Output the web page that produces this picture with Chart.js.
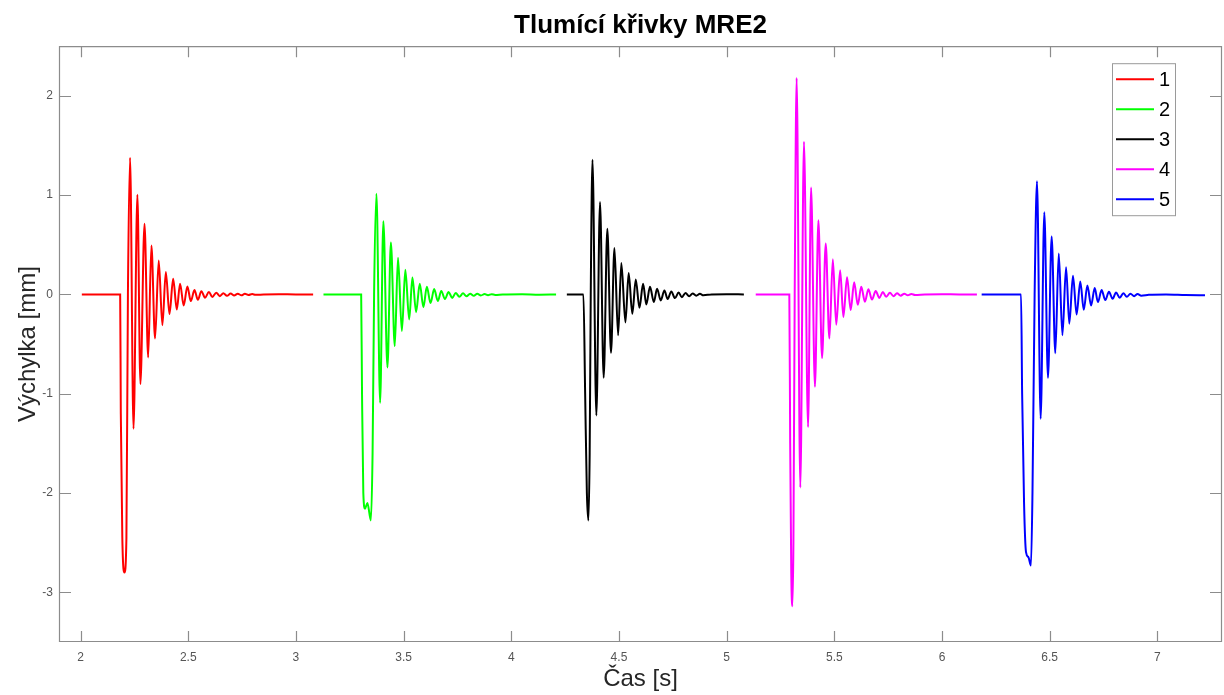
<!DOCTYPE html>
<html lang="cs">
<head>
<meta charset="utf-8">
<title>Tlumící křivky MRE2</title>
<script src="https://cdn.jsdelivr.net/npm/chart.js@4.4.0/dist/chart.umd.min.js"></script>
<style>
  html, body { margin: 0; padding: 0; background: #fff; }
</style>
</head>
<body>
<canvas id="graf" width="1224" height="695"></canvas>
<script>
// Data: čas [s] a výchylka [mm] pro každé měření
const cas1 = [2.006, 2.184, 2.187, 2.194, 2.204, 2.213, 2.220, 2.230, 2.246, 2.264, 2.278, 2.297, 2.314, 2.329, 2.346, 2.363, 2.380, 2.396, 2.413, 2.430, 2.447, 2.462, 2.479, 2.496, 2.512, 2.529, 2.545, 2.561, 2.578, 2.596, 2.612, 2.630, 2.647, 2.663, 2.680, 2.697, 2.713, 2.730, 2.747, 2.763, 2.780, 2.797, 2.813, 2.85, 2.92, 3.00, 3.08];
const vychylka1 = [0, 0, -1.2, -2.45, -2.80, -2.45, 0, 1.377, -1.353, 1.004, -0.903, 0.712, -0.634, 0.493, -0.443, 0.342, -0.309, 0.225, -0.198, 0.158, -0.151, 0.108, -0.111, 0.081, -0.067, 0.044, -0.054, 0.033, -0.033, 0.024, -0.025, 0.017, -0.017, 0.012, -0.013, 0.009, -0.010, 0.007, -0.008, 0.006, -0.006, 0.004, -0.004, 0, 0.003, 0, 0];

const cas2 = [3.128, 3.303, 3.307, 3.313, 3.321, 3.332, 3.348, 3.356, 3.363, 3.374, 3.391, 3.406, 3.425, 3.441, 3.459, 3.474, 3.492, 3.508, 3.526, 3.541, 3.558, 3.575, 3.592, 3.608, 3.625, 3.642, 3.659, 3.675, 3.692, 3.709, 3.726, 3.742, 3.759, 3.776, 3.792, 3.809, 3.826, 3.842, 3.859, 3.876, 3.892, 3.909, 3.925, 3.96, 4.05, 4.13, 4.208];
const vychylka2 = [0, 0, -1.0, -2.0, -2.158, -2.10, -2.276, -1.6, 0, 1.014, -1.091, 0.738, -0.735, 0.524, -0.520, 0.369, -0.369, 0.248, -0.252, 0.171, -0.178, 0.108, -0.128, 0.078, -0.087, 0.054, -0.066, 0.035, -0.046, 0.024, -0.035, 0.015, -0.024, 0.011, -0.018, 0.008, -0.014, 0.006, -0.010, 0.004, -0.008, 0.003, -0.005, 0, 0.003, -0.002, 0];

const cas3 = [4.258, 4.335, 4.343, 4.351, 4.358, 4.364, 4.369, 4.377, 4.395, 4.412, 4.429, 4.446, 4.463, 4.479, 4.496, 4.511, 4.530, 4.545, 4.562, 4.578, 4.595, 4.612, 4.627, 4.644, 4.662, 4.677, 4.694, 4.711, 4.726, 4.743, 4.760, 4.777, 4.792, 4.809, 4.826, 4.842, 4.859, 4.876, 4.892, 4.93, 5.00, 5.08];
const vychylka3 = [0, 0, -1.0, -2.0, -2.276, -1.6, 0, 1.356, -1.219, 0.930, -0.839, 0.661, -0.587, 0.467, -0.410, 0.316, -0.282, 0.215, -0.195, 0.151, -0.134, 0.107, -0.101, 0.077, -0.077, 0.057, -0.060, 0.040, -0.047, 0.030, -0.037, 0.020, -0.027, 0.014, -0.019, 0.010, -0.013, 0.006, -0.008, 0, 0.002, 0];

const cas4 = [5.135, 5.291, 5.295, 5.300, 5.305, 5.310, 5.316, 5.325, 5.342, 5.359, 5.378, 5.392, 5.410, 5.426, 5.443, 5.460, 5.477, 5.493, 5.509, 5.527, 5.542, 5.559, 5.576, 5.592, 5.609, 5.625, 5.642, 5.658, 5.675, 5.692, 5.709, 5.725, 5.741, 5.758, 5.775, 5.791, 5.808, 5.825, 5.841, 5.858, 5.875, 5.92, 6.00, 6.08, 6.162];
const vychylka4 = [0, 0, -1.5, -2.8, -3.14, -2.5, 0, 2.179, -1.944, 1.538, -1.336, 1.076, -0.930, 0.746, -0.641, 0.514, -0.444, 0.355, -0.305, 0.243, -0.226, 0.173, -0.156, 0.122, -0.104, 0.077, -0.073, 0.052, -0.052, 0.035, -0.035, 0.024, -0.024, 0.016, -0.017, 0.011, -0.012, 0.008, -0.009, 0.005, -0.006, 0, 0.003, 0, 0];

const cas5 = [6.184, 6.367, 6.372, 6.381, 6.390, 6.401, 6.413, 6.420, 6.430, 6.441, 6.458, 6.475, 6.492, 6.509, 6.526, 6.542, 6.559, 6.576, 6.591, 6.608, 6.625, 6.642, 6.658, 6.675, 6.692, 6.709, 6.724, 6.741, 6.758, 6.775, 6.792, 6.808, 6.825, 6.842, 6.858, 6.875, 6.892, 6.908, 6.925, 6.96, 7.04, 7.13, 7.221];
const vychylka5 = [0, 0, -1.0, -2.11, -2.595, -2.645, -2.729, -2.0, 0, 1.141, -1.252, 0.829, -0.839, 0.584, -0.591, 0.413, -0.410, 0.275, -0.295, 0.188, -0.201, 0.131, -0.154, 0.091, -0.111, 0.064, -0.077, 0.044, -0.057, 0.027, -0.044, 0.020, -0.034, 0.012, -0.024, 0.008, -0.017, 0.004, -0.012, -0.004, 0, -0.005, -0.008];

const nazvyMereni = ['1', '2', '3', '4', '5'];
const barvyMereni = ['#ff0000', '#00ff00', '#000000', '#ff00ff', '#0000ff'];

const xTicks = [2, 2.5, 3, 3.5, 4, 4.5, 5, 5.5, 6, 6.5, 7];
const yTicks = [-3, -2, -1, 0, 1, 2];

const barvaOsy = '#8c8c8c';

// spojí časy a výchylky do bodů {x, y}
function body(casy, hodnoty) {
    const n = Math.min(casy.length, hodnoty.length);
    const out = [];
    for (let i = 0; i < n; i++) out.push({ x: casy[i], y: hodnoty[i] });
    return out;
}

const serie = [
    body(cas1, vychylka1),
    body(cas2, vychylka2),
    body(cas3, vychylka3),
    body(cas4, vychylka4),
    body(cas5, vychylka5)
];

// rámeček os a dovnitř směřující značky (jako v MATLABu)
const ramecek = {
    id: 'ramecek',
    beforeDatasetsDraw(chart) {
        const { ctx, chartArea: a, scales: { x, y } } = chart;
        ctx.save();
        ctx.strokeStyle = barvaOsy;
        ctx.lineWidth = 1.2;
        ctx.beginPath();
        ctx.rect(a.left + 0.5, a.top + 0.5, a.width - 1, a.height - 1);
        xTicks.forEach(v => {
            const px = Math.round(x.getPixelForValue(v)) + 0.5;
            ctx.moveTo(px, a.bottom);
            ctx.lineTo(px, a.bottom - 11);
            ctx.moveTo(px, a.top);
            ctx.lineTo(px, a.top + 11);
        });
        yTicks.forEach(v => {
            const py = Math.round(y.getPixelForValue(v)) + 0.5;
            ctx.moveTo(a.left, py);
            ctx.lineTo(a.left + 12, py);
            ctx.moveTo(a.right, py);
            ctx.lineTo(a.right - 12, py);
        });
        ctx.stroke();
        ctx.restore();
    }
};

// legenda v pravém horním rohu grafu s rámečkem
const legendaVGrafu = {
    id: 'legendaVGrafu',
    afterDraw(chart) {
        const { ctx, chartArea: a } = chart;
        const sirka = 63, vyska = 152;
        const left = a.right - 47 - sirka;
        const top = a.top + 17;
        ctx.save();
        ctx.fillStyle = '#ffffff';
        ctx.fillRect(left, top, sirka, vyska);
        ctx.strokeStyle = '#9a9a9a';
        ctx.lineWidth = 1;
        ctx.strokeRect(left + 0.5, top + 0.5, sirka, vyska);
        ctx.font = '20px "Liberation Sans", Arial, sans-serif';
        ctx.textBaseline = 'middle';
        ctx.textAlign = 'left';
        chart.data.datasets.forEach((ds, i) => {
            const yy = top + 16 + i * 30;
            ctx.strokeStyle = ds.borderColor;
            ctx.lineWidth = 2;
            ctx.beginPath();
            ctx.moveTo(left + 4, yy);
            ctx.lineTo(left + 42, yy);
            ctx.stroke();
            ctx.fillStyle = '#000000';
            ctx.fillText(ds.label, left + 47, yy + 1);
        });
        ctx.restore();
    }
};

Chart.defaults.font.family = '"Liberation Sans", Arial, sans-serif';

new Chart(document.getElementById('graf'), {
    type: 'line',
    data: {
        datasets: serie.map((data, i) => ({
            label: nazvyMereni[i],
            data: data,
            borderColor: barvyMereni[i],
            backgroundColor: barvyMereni[i],
            borderWidth: 2,
            pointRadius: 0,
            cubicInterpolationMode: 'monotone',
            fill: false
        }))
    },
    options: {
        responsive: false,
        animation: false,
        layout: { padding: { left: 0, right: 2, top: 0, bottom: 0 } },
        plugins: {
            legend: { display: false },
            tooltip: { enabled: false },
            title: {
                display: true,
                fullSize: false,
                text: 'Tlumící křivky MRE2',
                color: '#000000',
                font: { size: 26, weight: 'bold' },
                padding: { top: 10, bottom: 5 }
            }
        },
        scales: {
            x: {
                type: 'linear',
                min: 1.9,
                max: 7.3,
                afterBuildTicks: s => { s.ticks = xTicks.map(v => ({ value: v })); },
                afterFit: s => { s.height = 53; },
                grid: { display: false, drawTicks: false },
                border: { display: false },
                ticks: {
                    padding: 8,
                    color: '#555555',
                    font: { size: 12 },
                    autoSkip: false,
                    maxRotation: 0,
                    callback: v => String(v)
                },
                title: {
                    display: true,
                    text: 'Čas [s]',
                    color: '#262626',
                    font: { size: 24 },
                    padding: { top: 0, bottom: 1 }
                }
            },
            y: {
                type: 'linear',
                min: -3.5,
                max: 2.5,
                afterBuildTicks: s => { s.ticks = yTicks.map(v => ({ value: v })); },
                afterFit: s => { s.width = 59; },
                grid: { display: false, drawTicks: false },
                border: { display: false },
                ticks: {
                    padding: 6,
                    color: '#555555',
                    font: { size: 12 },
                    callback: v => String(v)
                },
                title: {
                    display: true,
                    text: 'Výchylka [mm]',
                    color: '#262626',
                    font: { size: 24 },
                    padding: { top: 14, bottom: 0 }
                }
            }
        }
    },
    plugins: [ramecek, legendaVGrafu]
});
</script>
</body>
</html>
